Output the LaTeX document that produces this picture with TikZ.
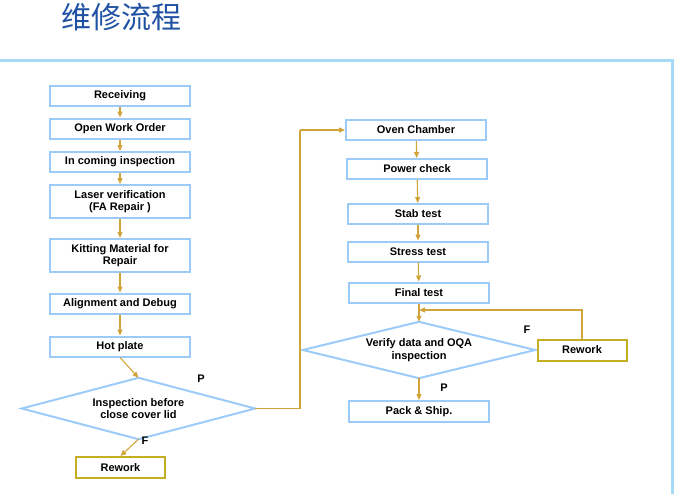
\documentclass[tikz,border=0pt]{standalone}
\usepackage{fontspec}
\setmainfont{Liberation Sans}
\newfontfamily\cjk{Noto Sans CJK SC}
\usetikzlibrary{arrows.meta}
\definecolor{boxblue}{HTML}{9CCBFA}
\definecolor{panelblue}{HTML}{A6DAF7}
\definecolor{conn}{HTML}{D0A43A}
\definecolor{gold}{HTML}{C4AE22}
\definecolor{titleblue}{HTML}{1F52A3}
\tikzset{
  stepbox/.style={draw=boxblue, line width=2pt, fill=white, minimum width=140pt, inner sep=1pt, align=center, font=\bfseries\fontsize{11}{12.5}\selectfont},
  rwbox/.style={draw=gold, line width=2pt, fill=white, minimum width=89pt, minimum height=21pt, inner sep=1pt, align=center, font=\bfseries\fontsize{11}{12.5}\selectfont},
  decide/.style={inner sep=0pt, align=center, font=\bfseries\fontsize{11}{12.5}\selectfont},
  dline/.style={draw=boxblue, line width=2pt, line join=miter},
  lab/.style={font=\bfseries\fontsize{11}{12.5}\selectfont, inner sep=0pt},
  arr/.style={draw=conn, line width=1.1pt, -{Triangle[length=6pt,width=5pt]}},
  ln/.style={draw=conn, line width=1.1pt}
}
\begin{document}
\begin{tikzpicture}[x=1pt,y=-1pt]
\useasboundingbox (0,0) rectangle (675,493);
% title
\node[font=\cjk\fontsize{30}{33}\selectfont, text=titleblue, inner sep=0pt, anchor=west] (title) at (61,17.5) {维修流程};
% panel frame
\draw[panelblue, line width=3pt] (0,60) -- (672,60) -- (672,495);
% left column
\node[stepbox, minimum height=20pt] (recv) at (120,95.5) {Receiving};
\node[stepbox, minimum height=20pt] (owo) at (120,128.5) {Open Work Order};
\node[stepbox, minimum height=20pt] (inc) at (120,162) {In coming inspection};
\node[stepbox, minimum height=33pt] (laser) at (120,201.5) {Laser verification\\(FA Repair )};
\node[stepbox, minimum height=33pt] (kit) at (120,255.5) {Kitting Material for\\Repair};
\node[stepbox, minimum height=20pt] (align) at (120,303.5) {Alignment and Debug};
\node[stepbox, minimum height=20pt] (hot) at (120,346.5) {Hot plate};
\node[decide, minimum width=233pt, minimum height=61pt] (d1) at (138.5,408.5) {Inspection before\\close cover lid};
\draw[dline] (d1.north) -- (d1.east) -- (d1.south) -- (d1.west) -- cycle;
\node[rwbox] (rw1) at (120.5,467.5) {Rework};
\node[lab] (p1) at (201,379) {P};
\node[lab] (f1) at (145,441) {F};
% right column
\node[stepbox, minimum height=20pt] (oven) at (416,130) {Oven Chamber};
\node[stepbox, minimum height=20pt] (power) at (417,169) {Power check};
\node[stepbox, minimum height=20pt] (stab) at (418,214) {Stab test};
\node[stepbox, minimum height=20pt] (stress) at (418,251.5) {Stress test};
\node[stepbox, minimum height=20pt] (final) at (419,292.5) {Final test};
\node[decide, minimum width=232pt, minimum height=56pt] (d2) at (419,350) {Verify data and OQA\\inspection};
\draw[dline] (d2.north) -- (d2.east) -- (d2.south) -- (d2.west) -- cycle;
\node[rwbox] (rw2) at (582,350) {Rework};
\node[stepbox, minimum height=21pt] (pack) at (419,411.5) {Pack \& Ship.};
\node[lab] (f2) at (527,330) {F};
\node[lab] (p2) at (444,388) {P};
\coordinate (turn) at (300,130);
\coordinate (join) at (419,310);
% connectors
\draw[arr] (recv) -- (owo);
\draw[arr] (owo) -- (inc);
\draw[arr] (inc) -- (laser);
\draw[arr] (laser) -- (kit);
\draw[arr] (kit) -- (align);
\draw[arr] (align) -- (hot);
\draw[arr] (hot.south) -- (d1.north);
\draw[arr] (d1.south) -- (rw1.north);
\draw[ln] (d1.east) -| (turn);
\draw[arr] (turn) -- (oven.west);
\draw[arr] (oven) -- (power);
\draw[arr] (power) -- (stab);
\draw[arr] (stab) -- (stress);
\draw[arr] (stress) -- (final);
\draw[arr] (final.south) -- (d2.north);
\draw[arr] (rw2.north) |- (join);
\draw[arr] (d2.south) -- (pack.north);
\end{tikzpicture}
\end{document}
